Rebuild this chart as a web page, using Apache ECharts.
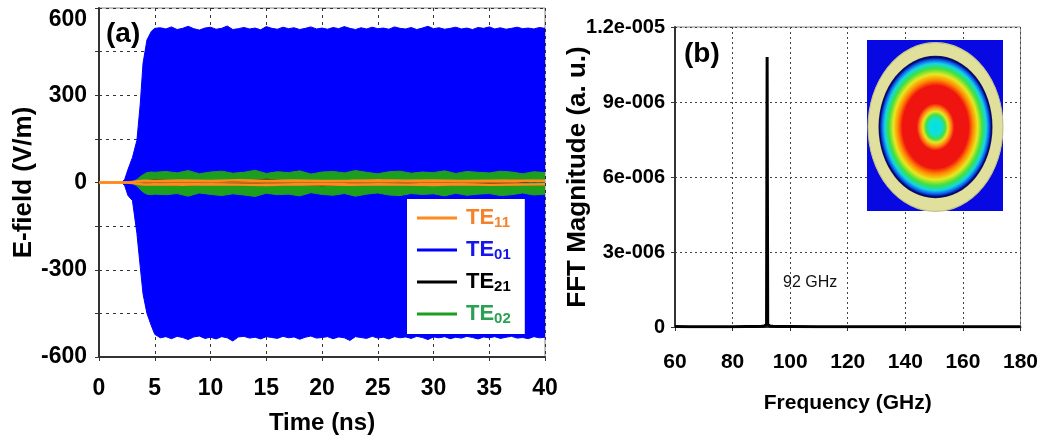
<!DOCTYPE html>
<html><head><meta charset="utf-8">
<script src="https://cdn.jsdelivr.net/npm/echarts@6/dist/echarts.min.js"></script>
<style>html,body{margin:0;padding:0;background:#fff}#c{width:1041px;height:443px}</style>
</head><body><div id="c"></div>
<script>
// ---------- Panel (a): E-field vs time (envelopes) ----------
const timeBlue = [0,1,2,2.3,2.6,3,3.4,3.7,3.95,4.3,4.7,5,
 5.5,6,6.5,7,7.5,8,8.5,9,9.5,10,10.5,11,11.5,12,12.5,13,13.5,14,14.5,15,
 15.5,16,16.5,17,17.5,18,18.5,19,19.5,20,20.5,21,21.5,22,22.5,23,23.5,24,24.5,25,
 25.5,26,26.5,27,27.5,28,28.5,29,29.5,30,30.5,31,31.5,32,32.5,33,33.5,34,34.5,35,
 35.5,36,36.5,37,37.5,38,38.5,39,39.5,40];
const te01Upper = [0,0,0,10,45,86,145,270,410,490,520,530,
 532,528,535,526,530,537,529,524,531,534,
 527,530,538,526,529,533,528,531,525,536,
 530,527,534,529,532,526,530,535,528,531,
 527,533,529,536,530,526,532,528,534,529,
 531,527,535,530,528,533,526,531,537,529,
 532,527,530,534,528,531,526,533,530,535,
 528,532,527,530,534,529,531,528,533,530];
const te01Lower = [0,0,0,-10,-45,-62,-175,-290,-383,-450,-493,-522,
 -534,-530,-537,-529,-533,-540,-531,-528,-536,-532,
 -538,-530,-534,-545,-531,-529,-535,-532,-538,-530,
 -533,-536,-529,-534,-531,-539,-532,-528,-535,-533,
 -530,-537,-531,-534,-543,-530,-533,-536,-529,-535,
 -532,-538,-530,-534,-531,-536,-529,-533,-540,-531,
 -534,-530,-537,-532,-535,-529,-533,-538,-531,-534,
 -530,-536,-532,-529,-535,-533,-537,-530,-534,-532];

const timeGreen = [0,1,2,2.6,3.0,3.4,3.7,4.0,4.3,4.7,5,
 6,7,8,9,10,11,12,13,14,15,16,17,18,19,20,21,22,23,24,25,26,27,28,29,30,31,32,33,34,35,36,37,38,39,40];
const te02Upper = [0,0,0,0,3,10,20,28,34,36,35,
 38,33,41,30,36,39,32,35,42,31,37,34,40,29,36,38,33,41,35,30,37,39,32,36,34,40,31,38,35,33,39,36,30,37,34];
const te02Lower = [0,0,0,0,-3,-12,-24,-34,-40,-42,-40,
 -42,-38,-47,-36,-41,-45,-39,-43,-48,-37,-42,-40,-46,-35,-41,-44,-38,-47,-40,-36,-43,-45,-38,-41,-39,-46,-37,-44,-40,-38,-45,-42,-36,-43,-40];

const timeSmall = [0,2.5,3,3.5,4,5,7.5,10,12.5,15,17.5,20,22.5,25,27.5,30,32.5,35,37.5,40];
const te11Upper = [0,0,2,4,6,6,7,5,8,6,7,5,6,8,6,7,5,6,7,6];
const te11Lower = [0,0,-2,-4,-7,-6,-8,-6,-7,-9,-6,-7,-8,-6,-7,-9,-6,-8,-7,-6];
const te21Upper = [0,0,1,3,5,10,6,5,4,11,5,4,6,10,4,5,6,4,9,4];
const te21Lower = [0,0,-1,-3,-5,-4,-10,-5,-4,-6,-5,-11,-6,-5,-4,-10,-6,-4,-5,-4];

const timeTickLabels = ['0','5','10','15','20','25','30','35','40'];
const efieldTickLabels = ['-600','-300','0','300','600'];

// ---------- Panel (b): FFT magnitude ----------
const freqGHz = [60,65,70,75,80,85,88,90,91,91.5,91.8,91.9,92.0,92.1,92.2,92.5,93,94,96,100,110,120,130,140,150,160,170,180];
const fftMag = [0.02e-6,0.01e-6,0.01e-6,0.01e-6,0.01e-6,0.02e-6,0.02e-6,0.03e-6,0.04e-6,0.06e-6,0.1e-6,5.7e-6,10.8e-6,5.6e-6,0.1e-6,0.06e-6,0.04e-6,0.03e-6,0.02e-6,0.02e-6,0.01e-6,0.01e-6,0.01e-6,0.01e-6,0.01e-6,0.01e-6,0.01e-6,0.01e-6];
const fftTickLabels = ['0','3e-006','6e-006','9e-006','1.2e-005'];

const legendNames = ['TE11','TE01','TE21','TE02'];
const seriesColors = {TE11:'#ff8a1e', TE01:'#0000ff', TE21:'#000000', TE02:'#1e9e1e'};
const legendTextColors = {TE11:'#f5822a', TE01:'#1515f0', TE21:'#000000', TE02:'#2aa052'};

const FONT = "'Liberation Sans', Arial, sans-serif";
function zip(a, b) { return a.map((x, i) => [x, b[i]]); }
function band(name, xs, ys, lw) {
  const c = seriesColors[name];
  return {name, type:'line', xAxisIndex:0, yAxisIndex:0, data: zip(xs, ys), symbol:'none', showSymbol:false,
    lineStyle:{color:c, width:lw}, itemStyle:{color:c}, areaStyle:{color:c, opacity:1}, silent:true};
}

const chart = echarts.init(document.getElementById('c'));
const axisLineStyle = {color:'#333', width:2};
const option = {
  animation: false,
  backgroundColor: '#fff',
  textStyle: {fontFamily: FONT},
  grid: [
    {left:99, top:8, right:496, bottom:86, show:true, borderColor:'#888', borderWidth:1, backgroundColor:'transparent'},
    {left:675, top:27, right:20, bottom:116, show:true, borderColor:'#888', borderWidth:1, backgroundColor:'transparent'}
  ],
  xAxis: [
    {type:'value', gridIndex:0, min:0, max:40, interval:5,
     name:'Time (ns)', nameLocation:'middle', nameGap:54,
     nameTextStyle:{fontSize:24, fontWeight:'bold', color:'#000', fontFamily:FONT},
     axisLine:{show:true, onZero:false, lineStyle:axisLineStyle},
     axisTick:{show:true, length:4, lineStyle:{color:'#333'}},
     axisLabel:{fontSize:23, fontWeight:'bold', color:'#000', margin:20, fontFamily:FONT,
       formatter: v => timeTickLabels[Math.round(v/5)]},
     splitLine:{show:true, lineStyle:{color:'#333', type:[3,4], width:1}}},
    {type:'value', gridIndex:1, min:60, max:180, interval:20,
     name:'Frequency (GHz)', nameLocation:'middle', nameGap:66,
     nameTextStyle:{fontSize:21, fontWeight:'bold', color:'#000', fontFamily:FONT},
     axisLine:{show:true, onZero:false, lineStyle:axisLineStyle},
     axisTick:{show:true, length:4, lineStyle:{color:'#333'}},
     axisLabel:{fontSize:21, fontWeight:'bold', color:'#000', margin:25, fontFamily:FONT},
     splitLine:{show:true, lineStyle:{color:'#444', type:[2,3], width:1}}}
  ],
  yAxis: [
    {type:'value', gridIndex:0, min:-600, max:600, interval:150,
     name:'E-field (V/m)', nameLocation:'middle', nameGap:62, nameMoveOverlap:false,
     nameTextStyle:{fontSize:26, fontWeight:'bold', color:'#000', fontFamily:FONT},
     axisLine:{show:true, onZero:false, lineStyle:axisLineStyle},
     axisTick:{show:true, length:4, lineStyle:{color:'#333'}},
     axisLabel:{fontSize:23, fontWeight:'bold', color:'#000', margin:12, fontFamily:FONT,
       verticalAlignMaxLabel:'top',
       formatter: v => efieldTickLabels.includes(String(v)) ? String(v) : ''},
     splitLine:{show:true, lineStyle:{color:'#333', type:[3,4], width:1}}},
    {type:'value', gridIndex:1, min:0, max:1.2e-5, interval:3e-6,
     name:'FFT Magnitude (a. u.)', nameLocation:'middle', nameGap:84, nameMoveOverlap:false,
     nameTextStyle:{fontSize:26, fontWeight:'bold', color:'#000', fontFamily:FONT},
     axisLine:{show:true, onZero:false, lineStyle:axisLineStyle},
     axisTick:{show:true, length:4, lineStyle:{color:'#333'}},
     axisLabel:{fontSize:20, fontWeight:'bold', color:'#000', margin:10, fontFamily:FONT,
       formatter: v => fftTickLabels[Math.round(v/3e-6)]},
     splitLine:{show:true, lineStyle:{color:'#444', type:[2,3], width:1}}}
  ],
  legend: {
    left:407, top:199, orient:'vertical', backgroundColor:'#fff', padding:[8,14,8,10],
    itemGap:9, itemWidth:40, itemHeight:3, icon:'rect', selectedMode:false,
    data: legendNames.map(n => ({name:n, itemStyle:{color:seriesColors[n]},
      textStyle:{color:legendTextColors[n]}})),
    formatter: n => '{a|TE}{b|' + n.slice(2) + '}',
    textStyle:{fontFamily:FONT, fontWeight:'bold', fontSize:22,
      rich:{a:{fontSize:22, fontWeight:'bold', fontFamily:FONT, lineHeight:24, padding:[0,0,0,4]},
            b:{fontSize:15, fontWeight:'bold', fontFamily:FONT, lineHeight:14, verticalAlign:'bottom'}}}
  },
  series: [
    band('TE01', timeBlue, te01Upper, 1),
    band('TE01', timeBlue, te01Lower, 1),
    band('TE02', timeGreen, te02Upper, 1),
    band('TE02', timeGreen, te02Lower, 1),
    band('TE21', timeSmall, te21Upper, 1),
    band('TE21', timeSmall, te21Lower, 1),
    band('TE11', timeSmall, te11Upper, 2.5),
    band('TE11', timeSmall, te11Lower, 2.5),
    {name:'FFT', type:'line', xAxisIndex:1, yAxisIndex:1, data: zip(freqGHz, fftMag),
     symbol:'none', lineStyle:{color:'#000', width:3}, itemStyle:{color:'#000'}, silent:true}
  ],
  graphic: [
    {type:'text', left:106, top:20, z:50, style:{text:'(a)', font:"bold 28px 'Liberation Sans', Arial", fill:'#000'}},
    {type:'text', left:684, top:40, z:50, style:{text:'(b)', font:"bold 28px 'Liberation Sans', Arial", fill:'#000'}},
    {type:'text', left:783, top:275, z:50, style:{text:'92 GHz', font:"16px 'Liberation Sans', Arial", fill:'#111'}},
    {type:'rect', z:50, shape:{x:867, y:40, width:136, height:171}, style:{fill:'#0808e2'}},
    {type:'group', z:51, x:935.5, y:127, scaleY:1.25, children:[
      {type:'circle', z:51, shape:{cx:0, cy:0, r:67.5}, style:{fill:'#e0e09c', stroke:'#c4c48a', lineWidth:1}},
      {type:'circle', z:52, shape:{cx:0, cy:0, r:57},
       style:{fill: new echarts.graphic.RadialGradient(0.5, 0.5, 0.5, [
         {offset:0, color:'#00e2e2'}, {offset:0.11, color:'#10e0d8'},
         {offset:0.17, color:'#3ee048'}, {offset:0.22, color:'#e6e620'},
         {offset:0.27, color:'#ff8c10'}, {offset:0.33, color:'#f01410'},
         {offset:0.58, color:'#f01410'}, {offset:0.66, color:'#ff8a00'},
         {offset:0.74, color:'#e8e820'}, {offset:0.82, color:'#40e040'},
         {offset:0.89, color:'#10d8e0'}, {offset:0.94, color:'#1060f0'},
         {offset:0.98, color:'#000070'}, {offset:1, color:'#202050'}])}}
    ]}
  ]
};
chart.setOption(option);
</script>
</body></html>
